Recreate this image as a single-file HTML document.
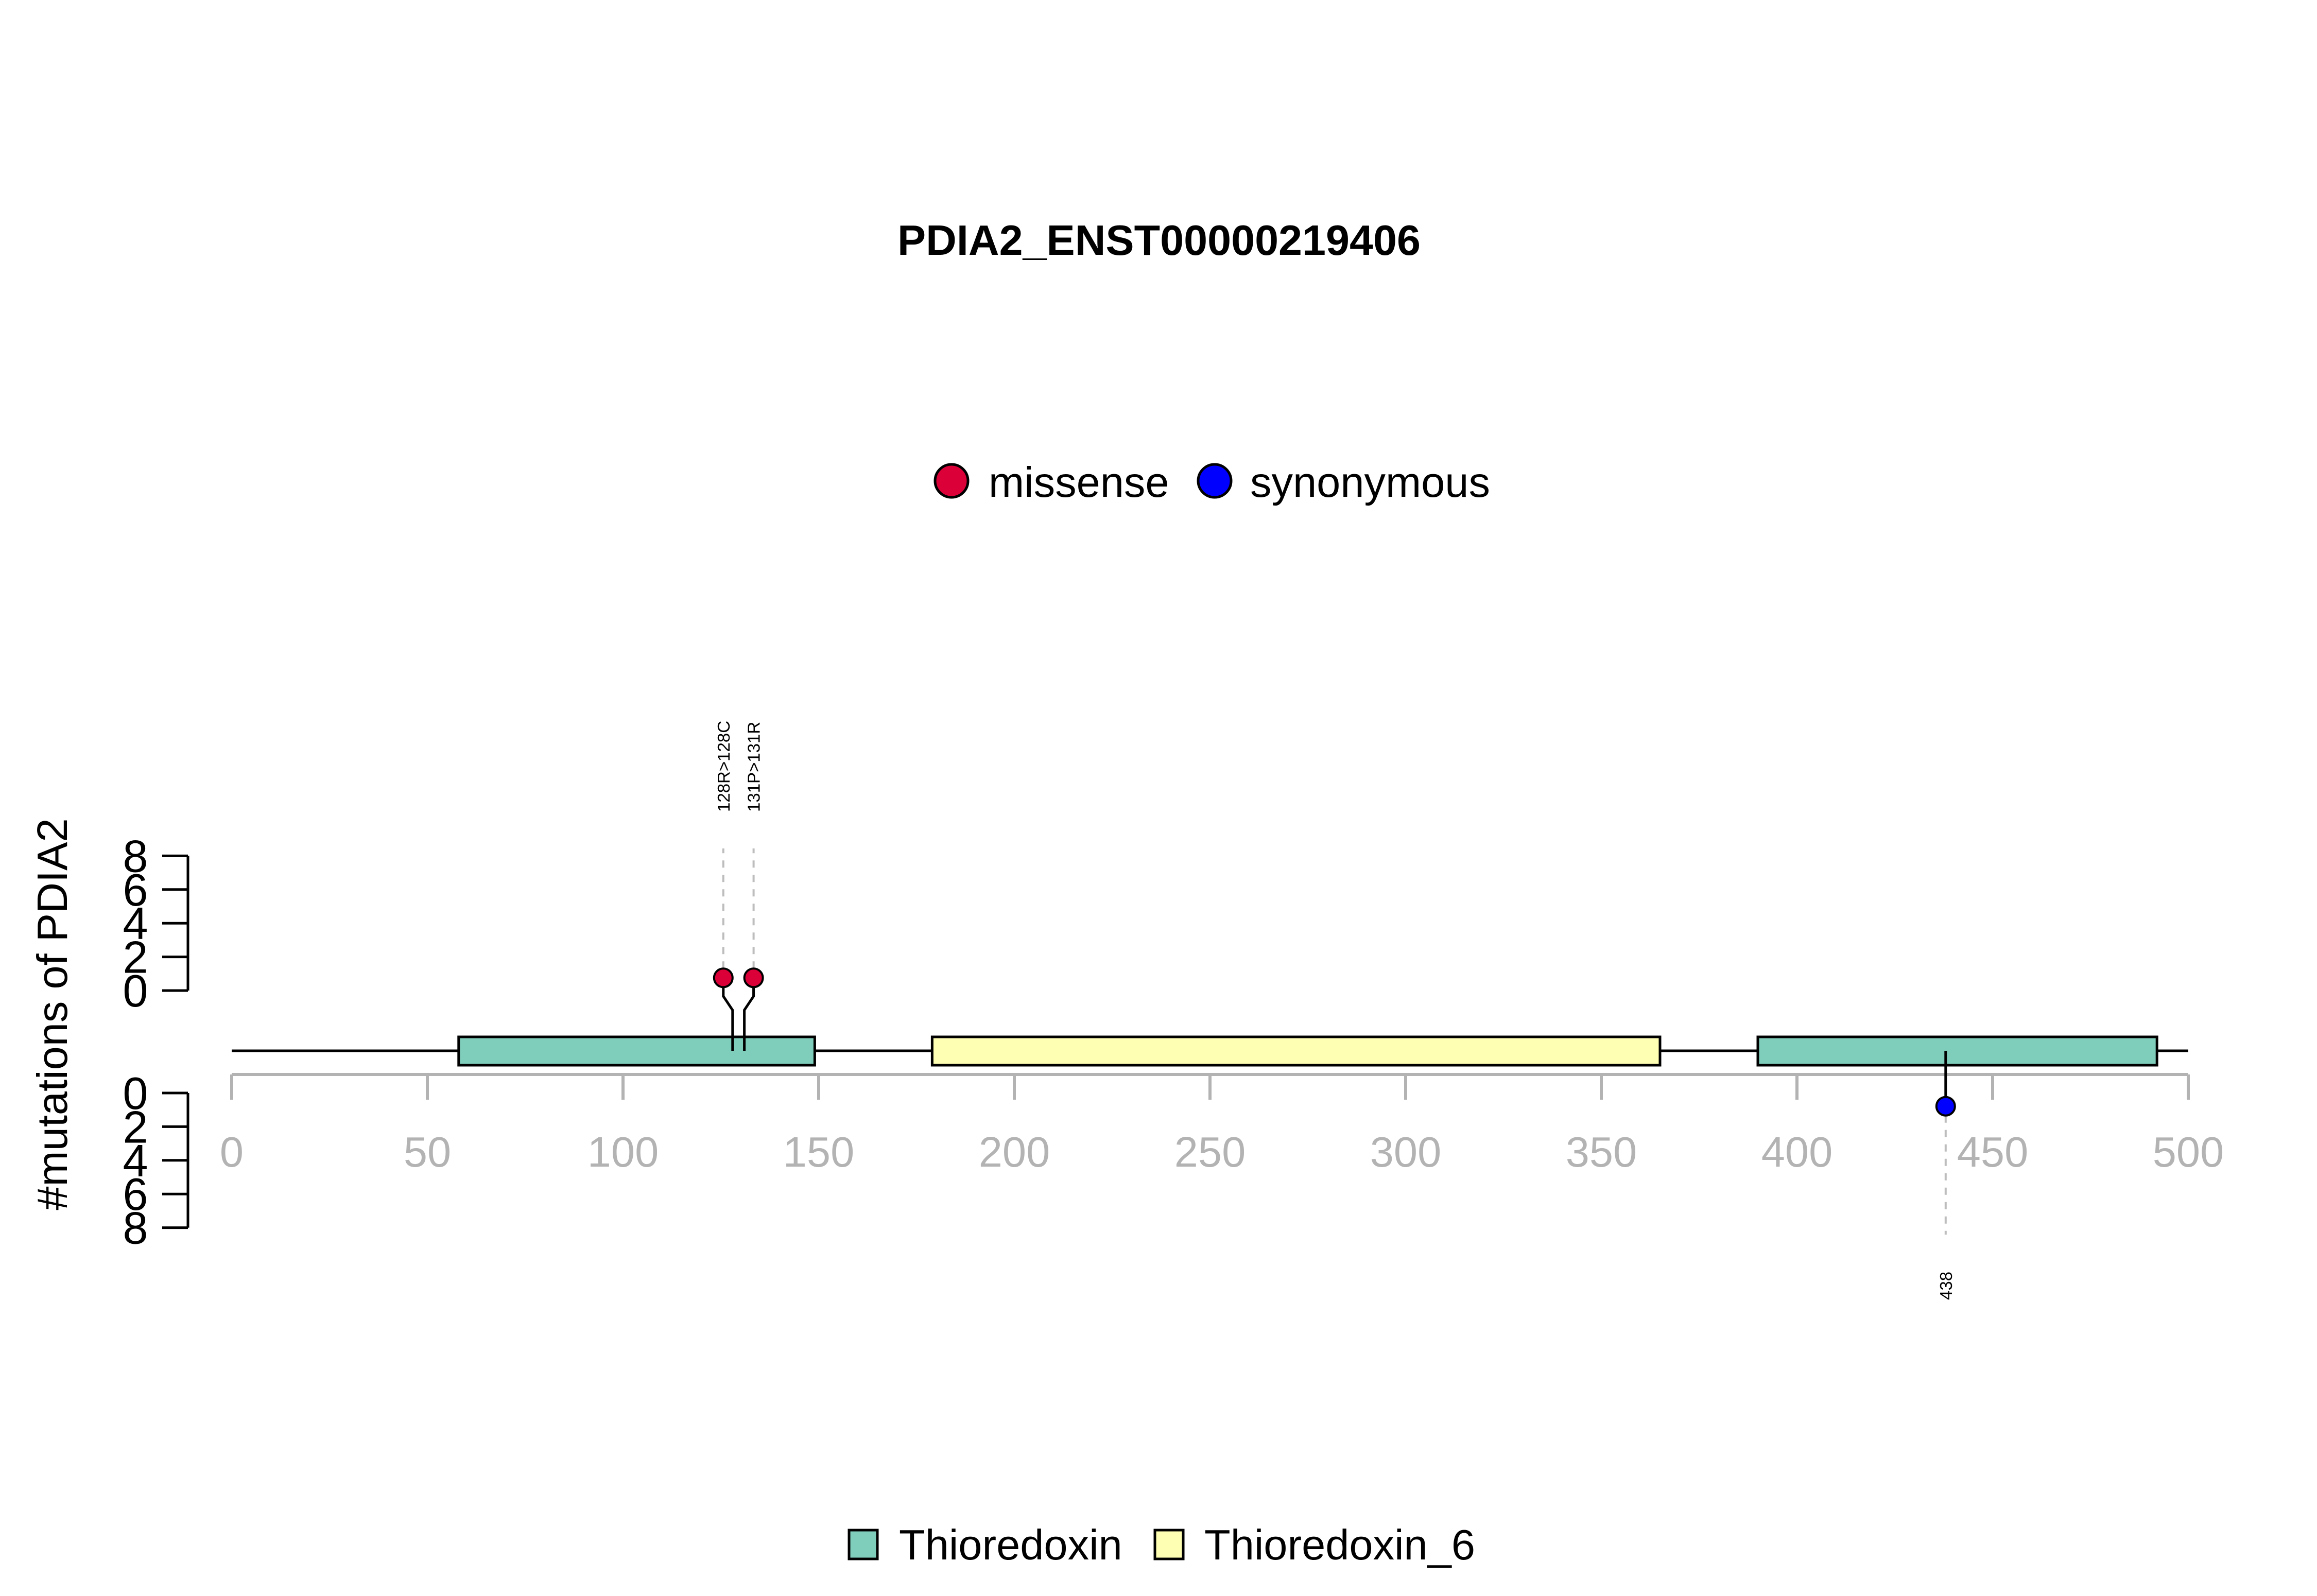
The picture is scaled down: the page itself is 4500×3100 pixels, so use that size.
<!DOCTYPE html>
<html><head><meta charset="utf-8"><style>
html,body{margin:0;padding:0;background:#fff;}
svg{display:block;font-family:"Liberation Sans",Arial,sans-serif;}
</style></head><body>
<svg id="chart" width="4500" height="3100" viewBox="0 0 4500 3100" xmlns="http://www.w3.org/2000/svg">
<rect width="4500" height="3100" fill="#fff"/>
<text x="2251" y="495" text-anchor="middle" font-size="83" font-weight="bold" textLength="1016" lengthAdjust="spacingAndGlyphs">PDIA2_ENST00000219406</text>
<g>
<circle cx="1848" cy="934" r="32" fill="#dc0038" stroke="#000" stroke-width="5"/>
<text x="1920" y="965" font-size="83">missense</text>
<circle cx="2359" cy="934" r="32" fill="#0000ff" stroke="#000" stroke-width="5"/>
<text x="2428" y="965" font-size="83">synonymous</text>
</g>
<text transform="translate(130,1970) rotate(-90)" text-anchor="middle" font-size="83">#mutations of PDIA2</text>
<g id="plot"></g>
<g>
<rect x="1649" y="2972" width="55" height="56" fill="#7fcdbb" stroke="#000" stroke-width="5"/>
<text x="1746" y="3029" font-size="83">Thioredoxin</text>
<rect x="2243" y="2972" width="55" height="56" fill="#ffffb3" stroke="#000" stroke-width="5"/>
<text x="2339" y="3029" font-size="83">Thioredoxin_6</text>
</g>
</svg>
<script>
const xTicks = [0,50,100,150,200,250,300,350,400,450,500];
const yTicks = [0,2,4,6,8];
const domainNames = ["Thioredoxin","Thioredoxin_6","Thioredoxin"];
const domainStarts = [58,179,390];
const domainEnds = [149,365,492];
const domainColors = ["#7fcdbb","#ffffb3","#7fcdbb"];
const upPositions = [128,131];
const upCounts = [1,1];
const upLabels = ["128R>128C","131P>131R"];
const upColors = ["#dc0038","#dc0038"];
const downPositions = [438];
const downCounts = [1];
const downLabels = ["438"];
const downColors = ["#0000ff"];

const NS = "http://www.w3.org/2000/svg";
const g = document.getElementById("plot");
const X = v => 450 + v * 7.6;
const YU = c => 1924 - c * 32.7;
const YD = c => 2123 + c * 32.7;
function mk(tag, attrs, parent){const e=document.createElementNS(NS,tag);for(const k in attrs)e.setAttribute(k,attrs[k]);(parent||g).appendChild(e);return e;}

let bb = mk("line",{x1:X(0),x2:X(500),y1:2041,y2:2041,stroke:"#000","stroke-width":5});



let xa = mk("line",{x1:X(xTicks[0]),x2:X(xTicks[xTicks.length-1]),y1:2087,y2:2087,stroke:"#b3b3b3","stroke-width":6});


xTicks.forEach(t=>{
  const tk = mk("line",{x1:X(t),x2:X(t),y1:2087,y2:2136,stroke:"#b3b3b3","stroke-width":6});
  
  
  const tl = mk("text",{x:X(t),y:2266,"text-anchor":"middle","font-size":83,fill:"#b3b3b3"});
  tl.textContent = t;
  
  
});

function yAxis(fn, nm){
  const a = mk("line",{x1:365,x2:365,y1:fn(yTicks[0]),y2:fn(yTicks[yTicks.length-1]),stroke:"#000","stroke-width":5});
  
  
  yTicks.forEach(t=>{
    const tk = mk("line",{x1:315,x2:365,y1:fn(t),y2:fn(t),stroke:"#000","stroke-width":5});
    
    
    const tl = mk("text",{x:263,y:fn(t)+31,"text-anchor":"middle","font-size":88});
    tl.textContent = t;
    
    
  });
}
yAxis(YU,'upper-y-axis');
yAxis(YD,'lower-y-axis');

domainStarts.forEach((s,i)=>{
  const r = mk("rect",{x:X(s),y:2014,width:X(domainEnds[i])-X(s),height:55,fill:domainColors[i],stroke:"#000","stroke-width":5});
  
  
});

const n = upPositions.length;
upPositions.forEach((p,i)=>{
  const hx = X(p) + (i - (n-1)/2) * 36;
  const hy = YU(upCounts[i]) + 8;
  const st = mk("polyline",{points:`${X(p)},2041 ${X(p)},1962 ${hx},1935 ${hx},${hy}`,fill:"none",stroke:"#000","stroke-width":5});
  
  
  const d = mk("line",{x1:hx,x2:hx,y1:hy-18,y2:1648,stroke:"#bdbdbd","stroke-width":4,"stroke-dasharray":"14,14"});
  
  
  const c = mk("circle",{cx:hx,cy:hy,r:18,fill:upColors[i],stroke:"#000","stroke-width":4});
  
  
  const t = mk("text",{transform:`translate(${hx+12},1577) rotate(-90)`,"font-size":33});
  t.textContent = upLabels[i];
  
  
});

downPositions.forEach((p,i)=>{
  const hx = X(p);
  const hy = YD(downCounts[i]) - 7;
  const st = mk("line",{x1:hx,x2:hx,y1:2041,y2:hy,stroke:"#000","stroke-width":5});
  
  
  const d = mk("line",{x1:hx,x2:hx,y1:hy+18,y2:2398,stroke:"#bdbdbd","stroke-width":4,"stroke-dasharray":"14,14"});
  
  
  const c = mk("circle",{cx:hx,cy:hy,r:18,fill:downColors[i],stroke:"#000","stroke-width":4});
  
  
  const t = mk("text",{transform:`translate(${hx+12},2525) rotate(-90)`,"font-size":33});
  t.textContent = downLabels[i];
  
  
});
</script>
</body></html>
